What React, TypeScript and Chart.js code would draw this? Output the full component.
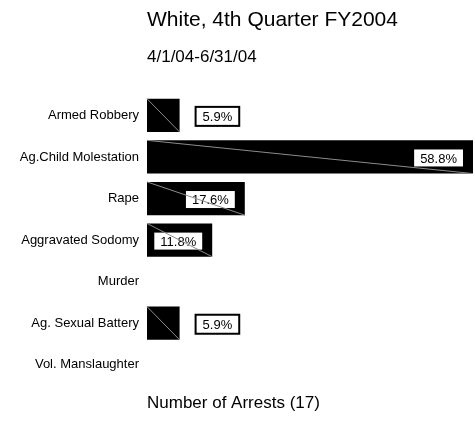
import { useEffect, useRef } from 'react';
import { Chart, registerables } from 'chart.js';

Chart.register(...registerables);

const categories = [
  'Armed Robbery',
  'Ag.Child Molestation',
  'Rape',
  'Aggravated Sodomy',
  'Murder',
  'Ag. Sexual Battery',
  'Vol. Manslaughter',
];
const arrests = [1, 10, 3, 2, 0, 1, 0];
const percentLabels = ['5.9%', '58.8%', '17.6%', '11.8%', '', '5.9%', ''];
const titleText = 'White, 4th Quarter FY2004';
const subtitleText = '4/1/04-6/31/04';
const xAxisTitle = 'Number of Arrests (17)';
const xMax = 10;

const FONT = '"Liberation Sans", Arial, sans-serif';

const boxLabelPlugin = {
  id: 'boxLabels',
  afterDatasetsDraw(chart: any) {
    const ctx = chart.ctx as CanvasRenderingContext2D;
    const meta = chart.getDatasetMeta(0);
    ctx.save();
    ctx.font = `13px ${FONT}`;
    meta.data.forEach((bar: any, i: number) => {
      const v = arrests[i];
      if (!v) return;
      const { x, y, base, height } = bar.getProps(['x', 'y', 'base', 'height'], true);
      const top = y - height / 2;
      const bottom = y + height / 2;
      const text = percentLabels[i];
      const tw = ctx.measureText(text).width;
      const bw = tw + 14;
      const bh = 19;
      const inside = x - base >= bw + 12;
      const bx = inside ? x - 9 - bw : x + 16;
      const by = y - bh / 2 + 1;
      ctx.fillStyle = '#fff';
      ctx.fillRect(bx, by, bw, bh);
      ctx.lineWidth = 2;
      ctx.strokeStyle = '#000';
      ctx.strokeRect(bx, by, bw, bh);
      ctx.fillStyle = '#000';
      ctx.textAlign = 'center';
      ctx.textBaseline = 'middle';
      ctx.fillText(text, bx + bw / 2, y + 2);
      ctx.beginPath();
      ctx.moveTo(base, top);
      ctx.lineTo(x, bottom);
      ctx.strokeStyle = '#8c8c8c';
      ctx.lineWidth = 1;
      ctx.stroke();
    });
    ctx.restore();
  },
};

export default function App() {
  const ref = useRef<HTMLCanvasElement>(null);
  useEffect(() => {
    document.body.style.margin = '0';
    const chart = new Chart(ref.current!, {
      type: 'bar',
      data: {
        labels: categories,
        datasets: [
          {
            data: arrests,
            backgroundColor: '#000',
            borderWidth: 0,
            barPercentage: 0.8,
            categoryPercentage: 1,
          },
        ],
      },
      options: {
        indexAxis: 'y',
        responsive: false,
        animation: false,
        layout: { padding: { left: 0, right: 2, top: 0, bottom: 22 } },
        plugins: {
          legend: { display: false },
          tooltip: { enabled: false },
          title: {
            display: true,
            text: titleText,
            align: 'start',
            fullSize: false,
            color: '#000',
            font: { size: 21, weight: 'normal', family: FONT },
            padding: { top: 8, bottom: 6 },
          },
          subtitle: {
            display: true,
            text: subtitleText,
            align: 'start',
            fullSize: false,
            color: '#000',
            font: { size: 17, weight: 'normal', family: FONT },
            padding: { top: 8, bottom: 27 },
          },
        },
        scales: {
          x: {
            min: 0,
            max: xMax,
            grid: { display: false, drawTicks: false },
            border: { display: false },
            ticks: { display: false },
            title: {
              display: true,
              text: xAxisTitle,
              align: 'start',
              color: '#000',
              font: { size: 17, family: FONT },
              padding: { top: 8, bottom: 0 },
            },
          },
          y: {
            grid: { display: false, drawTicks: false },
            border: { display: false },
            ticks: { color: '#000', font: { size: 13, family: FONT }, padding: 8 },
            afterFit: (s: any) => {
              s.width = 147;
            },
          },
        },
      },
      plugins: [boxLabelPlugin],
    });
    return () => chart.destroy();
  }, []);
  return <canvas ref={ref} width={475} height={436} style={{ display: 'block' }} />;
}
